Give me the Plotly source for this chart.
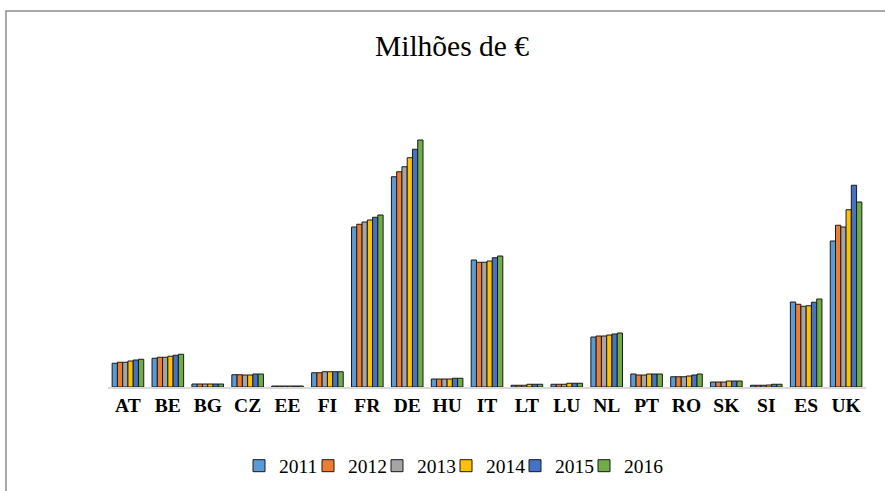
import plotly.graph_objects as go

countries = ["AT", "BE", "BG", "CZ", "EE", "FI", "FR", "DE", "HU", "IT",
             "LT", "LU", "NL", "PT", "RO", "SK", "SI", "ES", "UK"]
years = ["2011", "2012", "2013", "2014", "2015", "2016"]

v2011 = [19000, 23000, 2400, 9800, 800, 11400, 128000, 168200, 6400, 101600,
         1400, 2200, 40000, 10400, 8200, 4000, 1400, 68000, 116800]
v2012 = [19800, 23800, 2400, 9800, 800, 11400, 130200, 172200, 6400, 99800,
         1400, 2200, 40800, 9600, 8200, 4000, 1400, 66200, 129400]
v2013 = [19800, 23800, 2400, 9600, 800, 12200, 132000, 176200, 6400, 99800,
         1400, 2200, 40800, 9600, 8200, 4000, 1400, 64600, 128000]
v2014 = [20800, 24600, 2400, 9600, 800, 12200, 133600, 183400, 6400, 100800,
         2200, 3000, 41600, 10400, 8800, 4800, 1600, 65000, 141800]
v2015 = [21600, 25400, 2400, 10400, 800, 12200, 135800, 190200, 7000, 103400,
         2200, 3000, 42400, 10400, 9600, 4800, 2200, 67800, 161400]
v2016 = [22200, 26200, 2400, 10400, 800, 12200, 137600, 197600, 7000, 104800,
         2200, 3000, 43200, 10400, 10400, 4800, 2200, 70400, 148000]

series = [v2011, v2012, v2013, v2014, v2015, v2016]
colors = ["#5B9BD5", "#ED7D31", "#A5A5A5", "#FFC000", "#4472C4", "#70AD47"]

fig = go.Figure()
for name, vals, col in zip(years, series, colors):
    fig.add_trace(go.Bar(
        x=countries, y=vals, name=name,
        marker=dict(color=col, line=dict(color="#1a1a1a", width=1)),
    ))

# empty, invisible legend spacer so the last legend label is not clipped
fig.add_trace(go.Scatter(x=[None], y=[None], name=" ", mode="markers",
                         marker=dict(color="rgba(0,0,0,0)", size=1,
                                     line=dict(width=0, color="rgba(0,0,0,0)")),
                         opacity=0, hoverinfo="skip"))

W, H = 885, 491
L, R, T, B = 108, 19, 80, 104
plot_h = H - T - B
scale = 800  # value units per pixel

fig.update_layout(
    width=W, height=H,
    margin=dict(l=L, r=R, t=T, b=B),
    paper_bgcolor="white", plot_bgcolor="white",
    barmode="group", bargap=0.208, bargroupgap=0,
    title=dict(text="Milhões de €", x=452 / W, xref="container", xanchor="center",
               y=1 - 46 / H, yref="container", yanchor="middle",
               font=dict(family="Liberation Serif", size=29.5, color="black")),
    xaxis=dict(showline=True, linecolor="#D9D9D9", linewidth=2, ticks="",
               tickfont=dict(family="Liberation Serif", size=19.5, color="black", weight="bold"),
               showgrid=False),
    yaxis=dict(visible=False, range=[0, plot_h * scale], showgrid=False),
    legend=dict(orientation="h", xref="container", x=239 / W, xanchor="left",
                yref="container", y=1 - 466 / H, yanchor="middle",
                font=dict(family="Liberation Serif", size=19.5, color="black"),
                itemwidth=30, entrywidth=24, entrywidthmode="pixels",
                bgcolor="rgba(0,0,0,0)"),
    shapes=[dict(type="rect", xref="paper", yref="paper",
                 x0=(6 - L) / (W - L - R), x1=1.2,
                 y0=-0.6, y1=(H - B - 11) / plot_h,
                 line=dict(color="#8c8c8c", width=1.5), fillcolor="rgba(0,0,0,0)",
                 layer="below")],
)

fig.write_html("out.html", config={"displayModeBar": False},
               post_script="document.body.style.margin='0px';")
